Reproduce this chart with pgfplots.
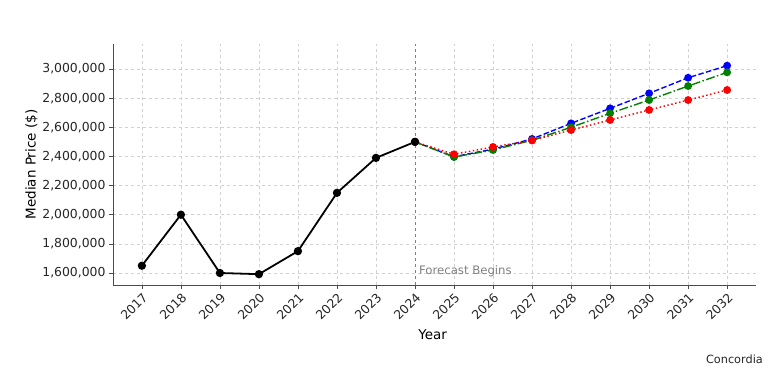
\documentclass[border=0pt]{standalone}
\usepackage{pgfplots}
\pgfplotsset{compat=1.18}
\usepackage{fontspec}
\setmainfont{DejaVu Sans}
\definecolor{mgreen}{RGB}{0,128,0}
\begin{document}
\begin{tikzpicture}[x=1bp,y=1bp]
\path[use as bounding box] (0,0) rectangle (781,383);
\begin{axis}[
  at={(113bp,98bp)}, anchor=south west,
  width=643bp, height=241bp, scale only axis,
  xmin=2016.26, xmax=2032.74,
  ymin=1517600, ymax=3171600,
  axis x line*=bottom, axis y line*=left,
  axis line style={draw=black!70, line width=0.8pt},
  xtick={2017,...,2032},
  ytick={1600000,1800000,...,3000000},
  scaled y ticks=false,
  tick align=outside,
  tick style={draw=black!70, line width=0.6pt},
  major tick length=4bp,
  /pgf/number format/assume math mode=true,
  y tick label style={/pgf/number format/.cd, fixed, 1000 sep={,}},
  x tick label style={/pgf/number format/.cd, 1000 sep={}, /tikz/.cd, rotate=45, anchor=north east, inner sep=2bp},
  ticklabel style={font=\fontsize{12.4bp}{14bp}\selectfont, text=black!85},
  grid=major,
  major grid style={dashed, draw=black!18, line width=0.5pt},
  xlabel={Year}, ylabel={Median Price (\$)},
  label style={font=\fontsize{13.5bp}{15bp}\selectfont},
  xlabel style={at={(axis description cs:0.497,0)}, anchor=center, yshift=-50bp},
  ylabel style={yshift=-2bp},
  clip=false,
]
\draw[dashed, draw=black!50, line width=0.7pt] (axis cs:2024,1517600) -- (axis cs:2024,3171600);
\node[anchor=base west, text=black!50, font=\fontsize{11.7bp}{13bp}\selectfont, inner sep=0pt] at (axis cs:2024.1,1588000) {Forecast Begins};
\addplot[blue, dash pattern=on 5.5bp off 2.4bp, line width=1.4pt, mark=*, mark size=3.2bp, mark options={solid}] coordinates {
(2024,2500000)(2025,2398000)(2026,2450000)(2027,2520000)(2028,2627000)(2029,2730000)(2030,2833000)(2031,2940000)(2032,3023000)};
\addplot[mgreen, dash pattern=on 9bp off 2.4bp on 1.5bp off 2.4bp, line width=1.4pt, mark=*, mark size=3.2bp, mark options={solid}] coordinates {
(2024,2500000)(2025,2396000)(2026,2444000)(2027,2511000)(2028,2600000)(2029,2696000)(2030,2787000)(2031,2883000)(2032,2977000)};
\addplot[red, dash pattern=on 1.5bp off 2.5bp, line width=1.4pt, mark=*, mark size=3.2bp, mark options={solid}] coordinates {
(2024,2500000)(2025,2415000)(2026,2465000)(2027,2510000)(2028,2581000)(2029,2650000)(2030,2719000)(2031,2787000)(2032,2856000)};
\addplot[black, line width=1.8pt, mark=*, mark size=3.2bp] coordinates {
(2017,1650000)(2018,2000000)(2019,1600000)(2020,1592000)(2021,1750000)(2022,2150000)(2023,2390000)(2024,2500000)};
\end{axis}
\node[anchor=east, font=\fontsize{11.3bp}{13bp}\selectfont, text=black!85, inner sep=0pt] at (763,24) {Concordia};
\end{tikzpicture}
\end{document}
